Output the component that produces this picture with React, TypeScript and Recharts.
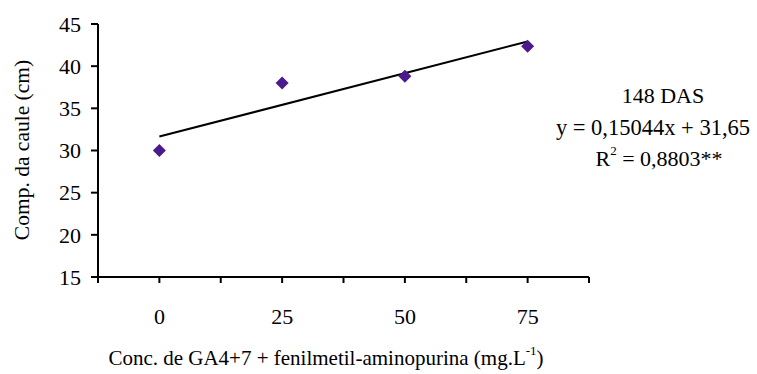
import { ScatterChart, Scatter, XAxis, YAxis, Customized } from "recharts";

const concentrations = [0, 25, 50, 75];
const stemLength = [30.0, 38.0, 38.8, 42.35];
const xTicks = [-12.5, 0, 12.5, 25, 37.5, 50, 62.5, 75, 87.5];
const xTickLabels = [0, 25, 50, 75];
const yTicks = [15, 20, 25, 30, 35, 40, 45];
const slope = 0.15044;
const intercept = 31.65;
const annotation = ["148 DAS", "y = 0,15044x + 31,65", "0,8803**"];

const points = concentrations.map((x, i) => ({ x, y: stemLength[i] }));
const trend = [0, 75].map((x) => ({ x, y: slope * x + intercept }));

const FONT = "Times New Roman, Liberation Serif, Tinos, DejaVu Serif, serif";
const FS = 22;

function Diamond(props: any) {
  const { cx, cy } = props;
  const r = 6.5;
  return (
    <path
      d={`M${cx},${cy - r} L${cx + r},${cy} L${cx},${cy + r} L${cx - r},${cy} Z`}
      fill="#4B1A8C"
    />
  );
}

function Texts() {
  return (
    <g style={{ fontFamily: FONT, fontSize: FS }} fill="#000">
      <text x={22} y={150} textAnchor="middle" dominantBaseline="central" transform="rotate(-90 22 150)" style={{ fontSize: 21.5 }}>
        Comp. da caule (cm)
      </text>
      <text x={326} y={358} textAnchor="middle" dominantBaseline="central" style={{ fontSize: 21 }}>
        Conc. de GA4+7 + fenilmetil-aminopurina (mg.L
        <tspan dy={-8} style={{ fontSize: 13 }}>-1</tspan>
        <tspan dy={8}>)</tspan>
      </text>
      <text x={663} y={95} textAnchor="middle" dominantBaseline="central">{annotation[0]}</text>
      <text x={653} y={127} textAnchor="middle" dominantBaseline="central" style={{ fontSize: 22.5 }}>{annotation[1]}</text>
      <text x={659} y={158} textAnchor="middle" dominantBaseline="central">
        R<tspan dy={-8} style={{ fontSize: 13 }}>2</tspan>
        <tspan dy={8}> = {annotation[2]}</tspan>
      </text>
    </g>
  );
}

export default function App() {
  return (
    <div style={{ position: "absolute", left: 0, top: 0, background: "#fff", fontFamily: FONT }}>
      <ScatterChart width={757} height={374} margin={{ top: 24, right: 168, bottom: 37, left: 38 }}>
        <XAxis
          type="number"
          dataKey="x"
          domain={[-12.5, 87.5]}
          ticks={xTicks}
          interval={0}
          allowDataOverflow
          tickFormatter={(v: number) => (xTickLabels.includes(v) ? String(v) : "")}
          axisLine={{ stroke: "#000", strokeWidth: 2 }}
          tickLine={{ stroke: "#000", strokeWidth: 2 }}
          tickSize={6}
          tickMargin={25}
          tick={{ fill: "#000", fontSize: FS, fontFamily: FONT }}
          height={60}
        />
        <YAxis
          type="number"
          dataKey="y"
          domain={[15, 45]}
          ticks={yTicks}
          interval={0}
          width={60}
          axisLine={{ stroke: "#000", strokeWidth: 2 }}
          tickLine={{ stroke: "#000", strokeWidth: 2 }}
          tickSize={7}
          tickMargin={10}
          tick={{ fill: "#000", fontSize: FS, fontFamily: FONT }}
        />
        <Scatter
          data={trend}
          line={{ stroke: "#000", strokeWidth: 2 }}
          shape={() => null}
          isAnimationActive={false}
        />
        <Scatter data={points} shape={Diamond} isAnimationActive={false} />
        <Customized component={Texts} />
      </ScatterChart>
    </div>
  );
}
